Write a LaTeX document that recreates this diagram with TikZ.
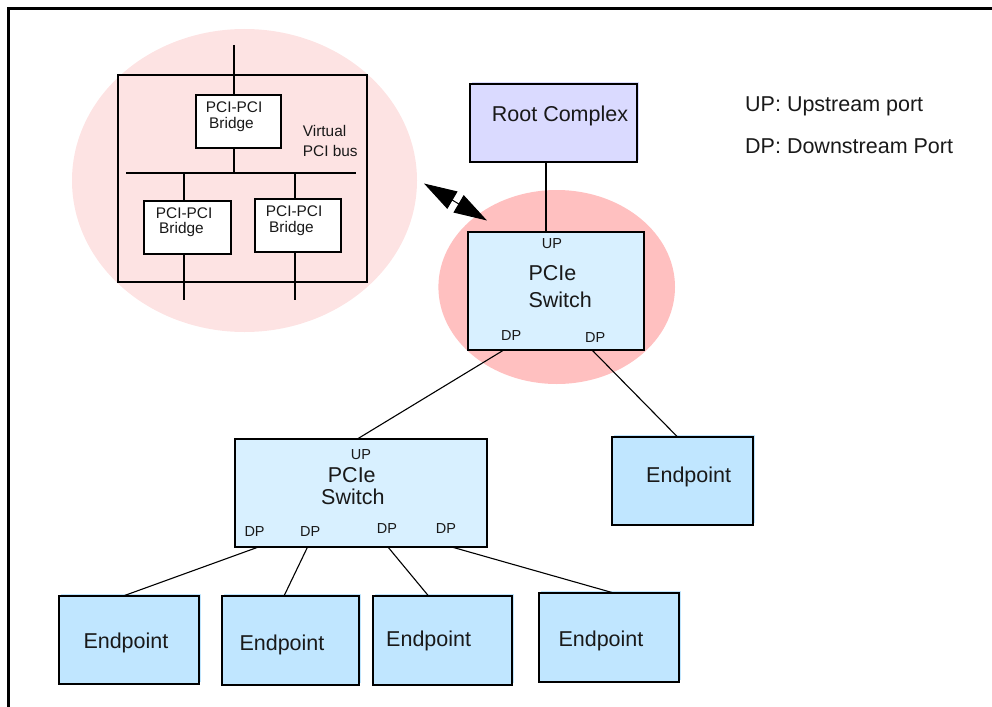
\documentclass[tikz,border=0pt]{standalone}
\usepackage{fontspec}
\setmainfont{Liberation Sans}
\usetikzlibrary{arrows.meta}
\definecolor{pinkA}{HTML}{FDE3E3}
\definecolor{pinkB}{HTML}{FFC0C0}
\definecolor{lavender}{HTML}{DADAFF}
\definecolor{swblue}{HTML}{D8F0FF}
\definecolor{epblue}{HTML}{C0E6FF}
\tikzset{
  box/.style={draw=black, line width=2pt, inner sep=0pt, outer sep=0pt, rectangle},
  shadefill/.style={preaction={fill=#1, transform canvas={shift={(2pt,2pt)}}}, fill=#1},
  bigtxt/.style={anchor=base west, inner sep=0pt, text=black!90, font=\fontsize{21.5}{26}\selectfont},
  smalltxt/.style={anchor=base west, inner sep=0pt, text=black!90, font=\fontsize{14.5}{17}\selectfont},
  bridgetxt/.style={anchor=base west, inner sep=0pt, text=black!90, font=\fontsize{15.4}{16}\selectfont},
  wire/.style={draw=black, line width=1.1pt},
  bus/.style={draw=black, line width=1.9pt},
  bighead/.style={arrows={Triangle[length=33pt,width=20pt]-Triangle[length=33pt,width=20pt]}},
}
\begin{document}
\begin{tikzpicture}[x=1pt,y=-1pt]
\useasboundingbox (0,0) rectangle (992,706);
% frame
\draw[line width=2.6pt] (8.5,720) -- (8.5,8.5) -- (1000,8.5);

% light pink circle
\fill[pinkA] (244.5,180.5) ellipse [x radius=172.5, y radius=151.5];
% red circle
\fill[pinkB] (556.7,287) ellipse [x radius=118.3, y radius=97];

% virtual switch internals
\node[box, minimum width=249, minimum height=207] (outer) at (242.5,178.5) {};
\coordinate (topin) at (233.7,45);
\node[box, fill=white, minimum width=85.3, minimum height=52.7] (tb) at (238.35,121.35) {};
\node[box, fill=white, minimum width=87, minimum height=53.3] (lb) at (187.8,227.35) {};
\node[box, fill=white, minimum width=86.3, minimum height=53] (rb) at (297.85,225.8) {};
\coordinate (busL) at (126,173.3);
\coordinate (busR) at (356,173.3);
\draw[bus] (busL) -- (busR);
\draw[bus] (topin) -- (topin |- tb.north);
\draw[bus] (tb.south -| topin) -- (topin |- busL);
\coordinate (lx) at (184,173.3);
\coordinate (rx) at (295,173.3);
\coordinate (lout) at (184,300);
\coordinate (rout) at (295,300);
\draw[bus] (lx) -- (lx |- lb.north);
\draw[bus] (lx |- lb.south) -- (lout);
\draw[bus] (rx) -- (rx |- rb.north);
\draw[bus] (rx |- rb.south) -- (rout);
\node[bridgetxt] (tbt) at (205.7,113) {PCI-PCI};
\node[bridgetxt] (tbt2) at (209,128.5) {Bridge};
\node[bridgetxt] (lbt) at (155.7,218) {PCI-PCI};
\node[bridgetxt] (lbt2) at (159,233.5) {Bridge};
\node[bridgetxt] (rbt) at (265.7,216.7) {PCI-PCI};
\node[bridgetxt] (rbt2) at (269,232.2) {Bridge};
\node[bridgetxt] (vb) at (302.7,136) {Virtual};
\node[bridgetxt] (vb2) at (302.7,156.5) {PCI bus};

% double arrow
\coordinate (arA) at (424,183.5);
\coordinate (arB) at (487,220.5);
\draw[line width=1pt, bighead] (arA) -- (arB);

% root complex
\node[box, shadefill=lavender, minimum width=167.3, minimum height=77.7] (root) at (553.65,122.85) {};
\node[bigtxt] (roott) at (491.7,121.7) {Root Complex};

% switch 1
\node[box, fill=swblue, minimum width=175.7, minimum height=118] (sw1) at (556.15,291.3) {};
\node[smalltxt] (sw1up) at (541.7,248.3) {UP};
\node[bigtxt] (sw1a) at (528.3,280) {PCIe};
\node[bigtxt] (sw1b) at (528.3,307.3) {Switch};
\node[smalltxt] (sw1d1) at (501,340) {DP};
\node[smalltxt] (sw1d2) at (585,342.7) {DP};
\coordinate (rc1) at (546,161.7);
\draw[wire, line width=1.6pt] (rc1) -- (rc1 |- sw1.north);

% legend
\node[bigtxt] (lg1) at (745,111.7) {UP: Upstream port};
\node[bigtxt] (lg2) at (745,153.3) {DP: Downstream Port};

% endpoint right
\node[box, shadefill=epblue, minimum width=141.6, minimum height=88.3] (ep0) at (682.5,480.85) {};
\node[bigtxt] (ep0t) at (646,482.7) {Endpoint};

% switch 2
\node[box, fill=swblue, minimum width=251.7, minimum height=107.7] (sw2) at (360.85,492.85) {};
\node[smalltxt] (sw2up) at (350.7,459.3) {UP};
\node[bigtxt] (sw2a) at (327.7,482.3) {PCIe};
\node[bigtxt] (sw2b) at (321,504.3) {Switch};
\node[smalltxt] (sw2d1) at (244.3,536.7) {DP};
\node[smalltxt] (sw2d2) at (300,536.7) {DP};
\node[smalltxt] (sw2d3) at (376.7,533.3) {DP};
\node[smalltxt] (sw2d4) at (435.7,533.3) {DP};

% bottom endpoints
\node[box, shadefill=epblue, minimum width=139.7, minimum height=88.3] (e1) at (129.15,639.85) {};
\node[bigtxt] (e1t) at (83.3,648.3) {Endpoint};
\node[box, shadefill=epblue, minimum width=137.6, minimum height=89] (e2) at (290.5,640.5) {};
\node[bigtxt] (e2t) at (239.3,650) {Endpoint};
\node[box, shadefill=epblue, minimum width=138.4, minimum height=89.3] (e3) at (442.5,640.35) {};
\node[bigtxt] (e3t) at (386,646) {Endpoint};
\node[box, shadefill=epblue, minimum width=140, minimum height=89] (e4) at (609.3,637.2) {};
\node[bigtxt] (e4t) at (558.3,646.7) {Endpoint};

% connectors
\coordinate (s1a) at (503.3,350.3);
\coordinate (s1b) at (592.3,350.3);
\coordinate (s2u) at (357.3,439);
\coordinate (ep0u) at (677.3,436.7);
\draw[wire] (s1a) -- (s2u);
\draw[wire] (s1b) -- (ep0u);

\coordinate (d1) at (259.3,546.7);
\coordinate (d2) at (307.7,546.7);
\coordinate (d3) at (387.7,546.7);
\coordinate (d4) at (450.7,546.7);
\coordinate (t1) at (124,595.7);
\coordinate (t2) at (284,596);
\coordinate (t3) at (428.3,595.7);
\coordinate (t4) at (612.7,592.7);
\draw[wire] (d1) -- (t1);
\draw[wire] (d2) -- (t2);
\draw[wire] (d3) -- (t3);
\draw[wire] (d4) -- (t4);
\end{tikzpicture}
\end{document}
